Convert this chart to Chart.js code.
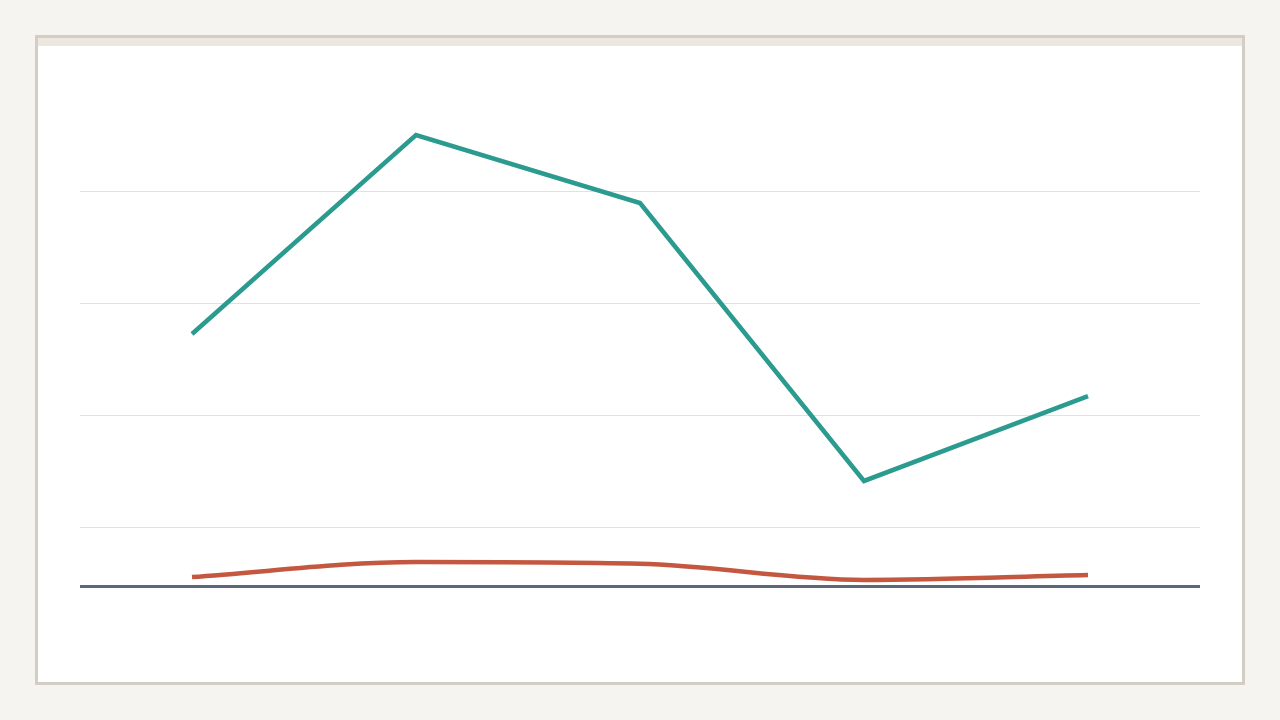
<!DOCTYPE html>
<html>
<head>
<meta charset="utf-8">
<script src="https://cdn.jsdelivr.net/npm/chart.js@4.4.1/dist/chart.umd.min.js"></script>
<style>
  html, body { margin: 0; padding: 0; background: #f5f4f0; width: 1280px; height: 720px; overflow: hidden; }
  .card { position: absolute; left: 35px; top: 35px; width: 1204px; height: 644px; border: 3px solid #d3cec4; background: #ffffff; }
  .strip { height: 8px; background: #ece8df; }
  .wrap { position: relative; width: 1204px; height: 636px; }
</style>
</head>
<body>
<div class="card">
  <div class="strip"></div>
  <div class="wrap"><canvas id="myChart"></canvas></div>
</div>
<script>
const categories = ['A', 'B', 'C', 'D', 'E'];
const seriesTeal = [225, 402.7, 342, 93.8, 169.6];
const seriesRed = [8, 21.4, 19.8, 5.4, 9.8];
const gridValues = [0, 52, 152, 252, 352];

const ctx = document.getElementById('myChart').getContext('2d');
const myChart = new Chart(ctx, {
    type: 'line',
    data: {
        labels: categories,
        datasets: [{
            data: seriesTeal,
            borderColor: '#2b9a8f',
            borderWidth: 4.5,
            borderJoinStyle: 'miter',
            pointRadius: 0,
            tension: 0
        }, {
            data: seriesRed,
            borderColor: '#c4573f',
            borderWidth: 4.5,
            pointRadius: 0,
            cubicInterpolationMode: 'monotone'
        }]
    },
    options: {
        responsive: true,
        maintainAspectRatio: false,
        animation: false,
        layout: {
            padding: { left: 42, right: 42, top: 34, bottom: 96 }
        },
        plugins: {
            legend: { display: false },
            tooltip: { enabled: false }
        },
        scales: {
            x: {
                display: false,
                offset: true
            },
            y: {
                min: 0,
                max: 451.8,
                afterBuildTicks: function (axis) {
                    axis.ticks = gridValues.map(v => ({ value: v }));
                },
                ticks: { display: false },
                border: { display: false },
                grid: {
                    drawTicks: false,
                    color: c => c.tick && c.tick.value === 0 ? '#5c6778' : '#e4e2d6',
                    lineWidth: c => c.tick && c.tick.value === 0 ? 3 : 1
                }
            }
        }
    }
});
</script>
</body>
</html>
